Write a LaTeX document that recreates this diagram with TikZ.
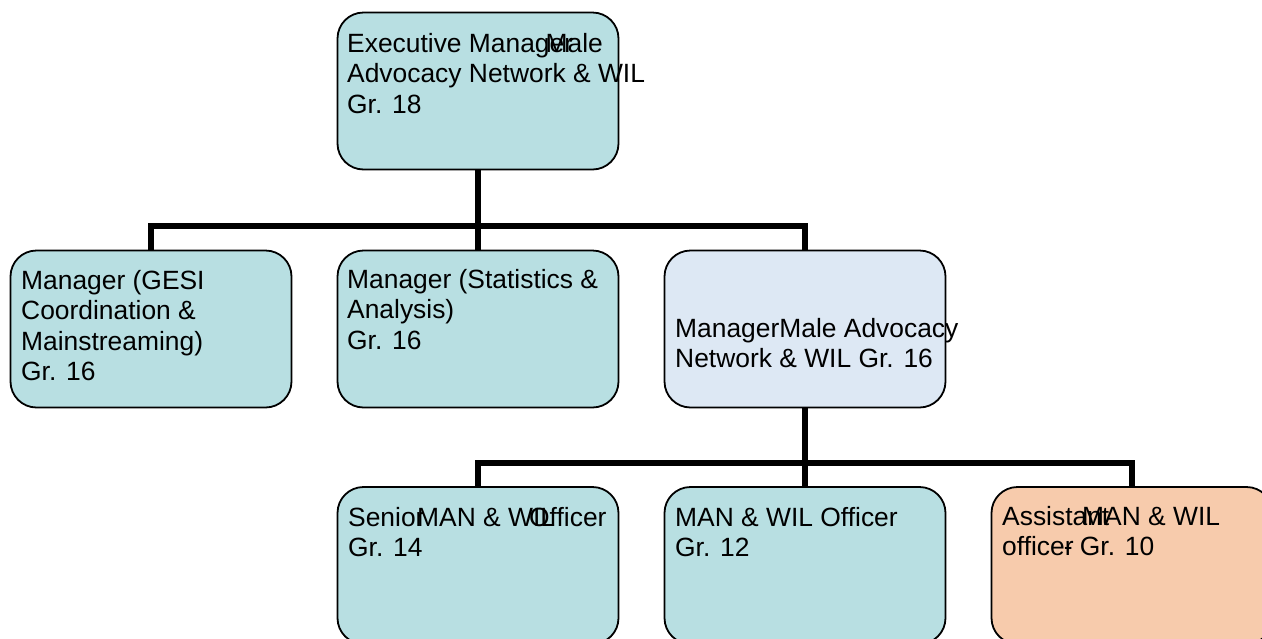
\documentclass[tikz,border=0pt]{standalone}
\usepackage{fontspec}
\setmainfont{Liberation Sans}
\usetikzlibrary{backgrounds}
\definecolor{teal}{HTML}{B8DFE2}
\definecolor{paleblue}{HTML}{DDE8F4}
\definecolor{peach}{HTML}{F7CBAC}
\begin{document}
\begin{tikzpicture}[x=1pt,y=-1pt,
  orgbox/.style={draw=black, line width=1.8pt, rounded corners=26pt,
    minimum width=281pt, minimum height=157pt, inner sep=0pt, fill=teal},
  txt/.style={anchor=base west, inner sep=0pt, align=left,
    font=\fontsize{26.4}{30.5}\selectfont},
  conn/.style={draw=black, line width=6.5pt, line join=miter, line cap=butt}]
\useasboundingbox (0,0) rectangle (1262,638);
\clip (0,0) rectangle (1262,638);
% boxes
\node[orgbox] (top) at (478,91) {};
\node[orgbox] (b1) at (151,329) {};
\node[orgbox] (b2) at (478,329) {};
\node[orgbox, fill=paleblue] (b3) at (805,329) {};
\node[orgbox] (c1) at (478,565.5) {};
\node[orgbox] (c2) at (805,565.5) {};
\node[orgbox, fill=peach] (c3) at (1132,565.5) {};
% junctions
\coordinate (j1) at (478,226);
\coordinate (j2) at (805,463);
\begin{scope}[on background layer]
\draw[conn] (top.south) -- (b2.north);
\draw[conn] (b1.north) -- (b1.north |- j1) -- (b3.north |- j1) -- (b3.north);
\draw[conn] (b3.south) -- (c2.north);
\draw[conn] (c1.north) -- (c1.north |- j2) -- (c3.north |- j2) -- (c3.north);
\end{scope}
% texts
\node[txt] (ttop) at (347,52) {\vtop{\hbox{Executive Manag\rlap{er}\kern-4pt Male}\hbox{Advocacy Network \& WIL}\hbox{Gr. 18}}};
\node[txt] (tb1) at (21,289) {\vtop{\hbox{Manager (GESI}\hbox{Coordination \&}\hbox{Mainstreaming)}\hbox{Gr. 16}}};
\node[txt] (tb2) at (347,288) {\vtop{\hbox{Manager (Statistics \&}\hbox{Analysis)}\hbox{Gr. 16}}};
\node[txt] (tb3) at (675,337) {\vtop{\hbox{ManagerMale Advocacy}\hbox{Network \& WIL Gr. 16}}};
\node[txt] (tc1) at (348,526) {\vtop{\hbox{\rlap{Senior}\hspace{69pt}\rlap{MAN \& WIL}\hspace{112pt}Officer}\hbox{Gr. 14}}};
\node[txt] (tc2) at (675,526) {\vtop{\hbox{MAN \& WIL Officer}\hbox{Gr. 12}}};
\node[txt] (tc3) at (1002,525) {\vtop{\hbox{\rlap{Assistant}\hspace{80pt}MAN \& WIL}\hbox{office\rlap{r}\kern-1pt-\ Gr. 10}}};
\end{tikzpicture}
\end{document}
